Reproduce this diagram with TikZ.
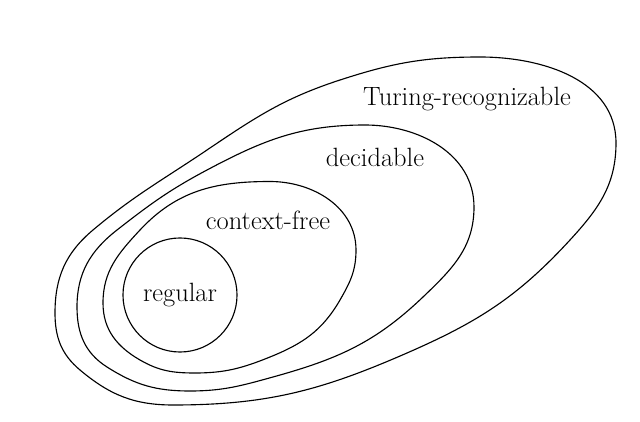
\documentclass[tikz,border=0pt]{standalone}
\begin{document}
\begin{tikzpicture}[x=0.025cm, y=0.025cm,
  set/.style={draw, line width=.8pt, line join=round, line cap=round},
  lbl/.style={font=\fontsize{18.8}{22}\selectfont, inner sep=0pt, anchor=base}]
\useasboundingbox (0,0) rectangle (640,422);
% Turing-recognizable
\draw[set] (55,109) to[out=90,in=220] (93,192) to[out=40,in=214] (207,272)
  to[out=34,in=198] (340,342) to[out=18,in=180] (480,365) to[out=0,in=90] (616,279)
  to[out=-90,in=47.4] (570,182) to[out=-132.6,in=23.6] (407,69) to[out=-156.4,in=0] (173,17)
  to[out=180,in=-40] (80,52) to[out=140,in=-90] (55,109);
% decidable
\draw[set] (77,115) to[out=90,in=218] (117,192) to[out=38,in=208] (207,252)
  to[out=28,in=180] (365,297) to[out=0,in=90] (474,215) to[out=-90,in=43.7] (423,125)
  to[out=-136.3,in=15.5] (273,45) to[out=-164.5,in=0] (190,31) to[out=180,in=-32.4] (107,55)
  to[out=147.6,in=-90] (77,115);
% context-free
\draw[set] (103,119) to[out=90,in=227] (140,192) to[out=47,in=180] (270,240.5)
  to[out=0,in=90] (356,172) to[out=-90,in=60] (340,122) to[out=-120,in=22] (270,65)
  to[out=-158,in=0] (195,49) to[out=180,in=-30] (140,62) to[out=150,in=-90] (103,119);
% regular
\node[set, circle, minimum size=2.85cm, inner sep=0pt] (reg) at (180,127){};
\node[lbl] (lturing) at (467,316){Turing-recognizable};
\node[lbl] (ldec) at (375,255){decidable};
\node[lbl] (lcf) at (268,192){context-free};
\node[lbl] (lreg) at (180,120){regular};
\end{tikzpicture}
\end{document}
